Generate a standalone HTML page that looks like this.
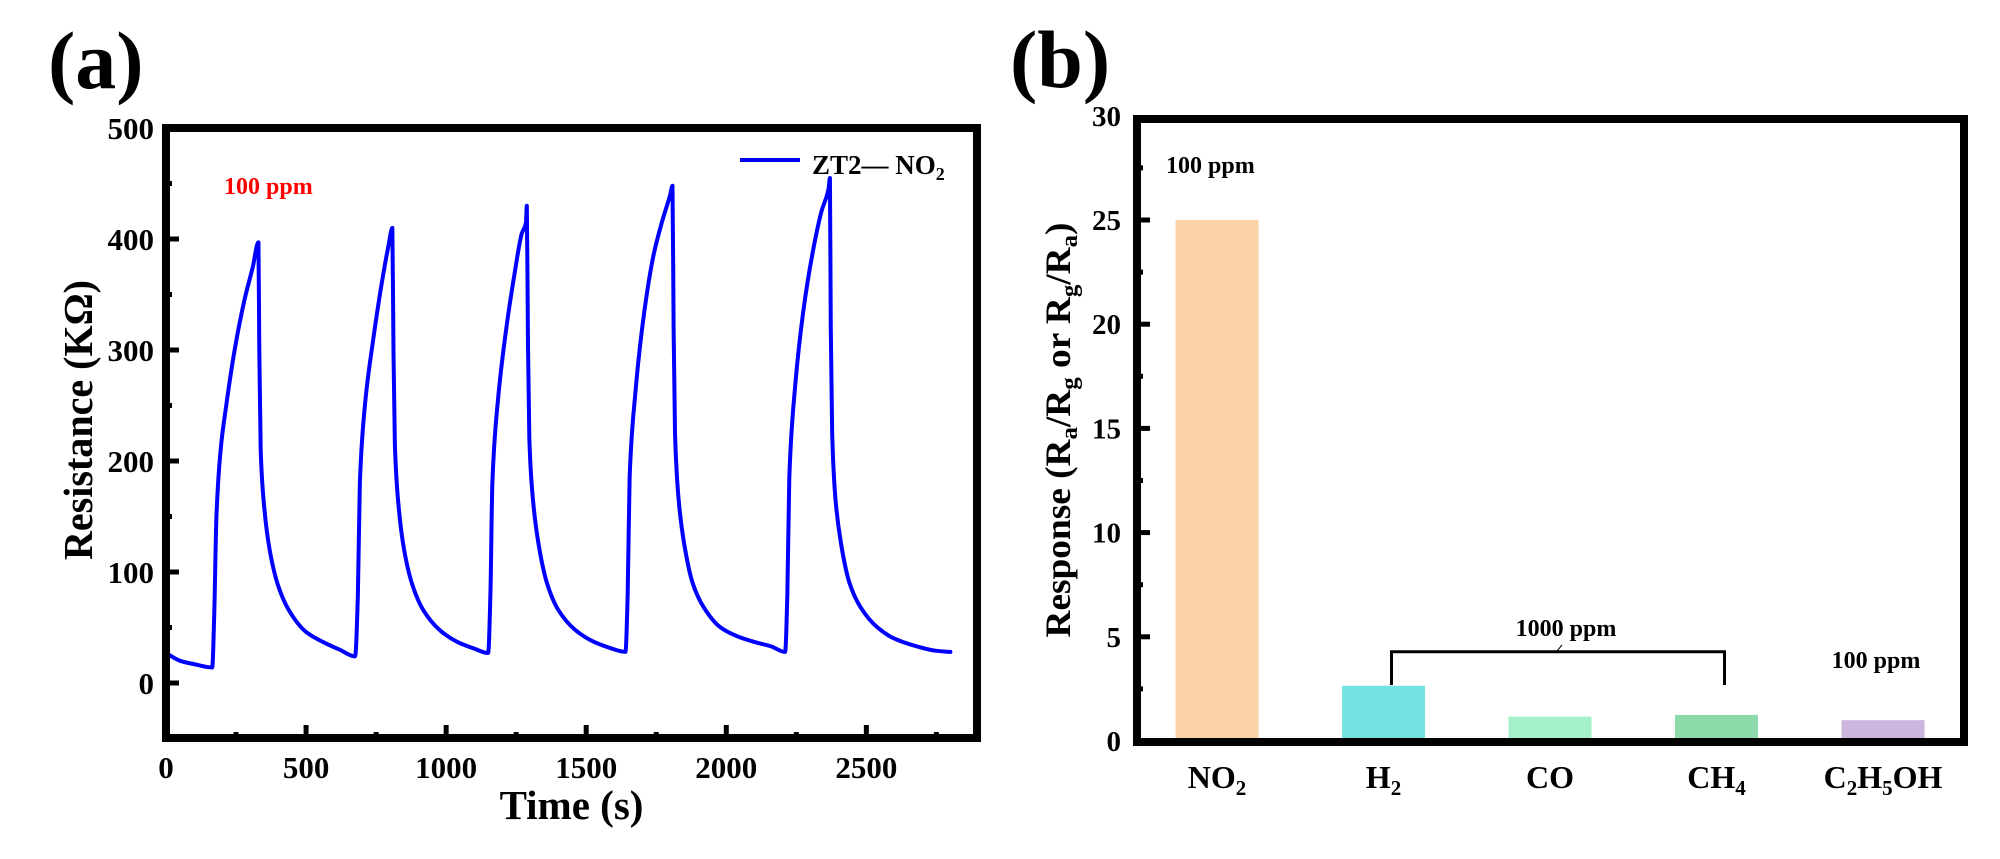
<!DOCTYPE html>
<html><head><meta charset="utf-8"><style>
html,body{margin:0;padding:0;background:#fff;}
svg{display:block;font-family:"Liberation Serif",serif;font-weight:bold;}
</style></head><body>
<svg id="fig" width="2000" height="859" viewBox="0 0 2000 859" xmlns="http://www.w3.org/2000/svg">
<g id="pa"></g>
<g id="pb"></g>
</svg>
<script>
// Panel (a) data
const timeS = [0,50,100,165,172,180,195,215,245,280,310,330,333,338,350,370,400,440,500,560,620,675,
 685,692,710,740,770,795,808,812,817,830,850,880,920,980,1040,1100,1150,
 1158,1165,1185,1215,1245,1270,1285,1288,1292,1297,1310,1330,1360,1400,1460,1520,1580,1640,
 1648,1655,1675,1705,1740,1770,1800,1808,1812,1817,1830,1850,1880,1920,1980,2040,2100,2160,2210,
 2218,2225,2245,2275,2310,2340,2365,2370,2373,2378,2390,2410,2440,2480,2540,2600,2680,2750,2800];
const resistance = [27,20,17,14,60,150,210,250,300,345,375,397,300,210,160,120,88,65,46,37,30,24,
 80,180,250,310,360,395,410,300,215,160,120,88,65,47,37,31,27,
 80,180,255,320,370,405,415,430,310,220,165,125,90,66,48,38,32,28,
 80,185,260,330,385,415,440,448,320,225,165,125,90,68,50,42,37,33,28,
 80,185,265,335,390,425,445,455,320,225,165,125,90,68,50,40,33,29,28];
const xTicksA = [0,500,1000,1500,2000,2500];
const yTicksA = [0,100,200,300,400,500];
// Panel (b) data
const gases = ["NO2","H2","CO","CH4","C2H5OH"];
const gasLabels = [["NO","2",""],["H","2",""],["CO","",""],["CH","4",""],["C","2","H","5","OH"]];
const responses = [25.0,2.65,1.17,1.25,1.0];
const barColors = ["#fbd3a9","#74e2e2","#a4f0c8","#8cd9a9","#cdb6de"];
const yTicksB = [0,5,10,15,20,25,30];

const NS="http://www.w3.org/2000/svg";
function mk(parent,tag,attrs,text){const e=document.createElementNS(NS,tag);for(const k in attrs)e.setAttribute(k,attrs[k]);if(text!==undefined)e.textContent=text;parent.appendChild(e);return e;}
function monotonePath(P){
 const n=P.length;if(n<2)return '';
 const d=[],m=[];
 for(let i=0;i<n-1;i++)d.push((P[i+1][1]-P[i][1])/(P[i+1][0]-P[i][0]||1e-6));
 m[0]=d[0];m[n-1]=d[n-2];
 for(let i=1;i<n-1;i++){if(d[i-1]*d[i]<=0)m[i]=0;else{const h0=P[i][0]-P[i-1][0],h1=P[i+1][0]-P[i][0];m[i]=3*(h0+h1)/((2*h1+h0)/d[i-1]+(h1+2*h0)/d[i]);}}
 let s='M'+P[0][0]+','+P[0][1];
 for(let i=0;i<n-1;i++){const h=P[i+1][0]-P[i][0];
  s+=' C'+(P[i][0]+h/3)+','+(P[i][1]+m[i]*h/3)+' '+(P[i+1][0]-h/3)+','+(P[i+1][1]-m[i+1]*h/3)+' '+P[i+1][0]+','+P[i+1][1];}
 return s;}

// ---------- Panel A ----------
const pa=document.getElementById('pa');
const AL=166,AR=977,AT=128,AB=738;
const ax=t=>AL+(t-0)*(AR-AL)/2895;
const ay=v=>683-v*1.11;
let e;
e=mk(pa,'text',{x:48,y:88,'font-size':82},'(a)');


for(let t=250;t<2895;t+=250){const major=t%500===0;
 e=mk(pa,'line',{x1:ax(t),x2:ax(t),y1:AB,y2:AB-(major?13:6),stroke:'#000','stroke-width':5});
 
 }
for(let v=-50;v<=500;v+=50){const major=v%100===0;
 e=mk(pa,'line',{x1:AL,x2:AL+(major?13:6),y1:ay(v),y2:ay(v),stroke:'#000','stroke-width':5});
 
 }
xTicksA.forEach(t=>{e=mk(pa,'text',{x:ax(t),y:778,'font-size':31,'text-anchor':'middle'},String(t));
 
 });
yTicksA.forEach(v=>{e=mk(pa,'text',{x:154,y:ay(v)+11,'font-size':31,'text-anchor':'end'},String(v));
 
 });
e=mk(pa,'text',{x:(AL+AR)/2,y:819,'font-size':41,'text-anchor':'middle'},'Time (s)');


e=mk(pa,'text',{x:0,y:0,'font-size':41,'text-anchor':'middle',transform:'translate(92,420) rotate(-90)',textLength:280,lengthAdjust:'spacingAndGlyphs'},'Resistance (KΩ)');


e=mk(pa,'path',{d:monotonePath(timeS.map((t,i)=>[ax(t),ay(resistance[i])])),fill:'none',stroke:'#0000ff','stroke-width':4,'stroke-linejoin':'round','stroke-linecap':'round'});


e=mk(pa,'rect',{x:AL,y:AT,width:AR-AL,height:AB-AT,fill:'none',stroke:'#000','stroke-width':8});


e=mk(pa,'text',{x:224,y:194,'font-size':24,fill:'#ff0000'},'100 ppm');


e=mk(pa,'line',{x1:740,x2:800,y1:160,y2:160,stroke:'#0000ff','stroke-width':4});


e=mk(pa,'text',{x:812,y:174,'font-size':27});


mk(e,'tspan',{},'ZT2— NO');mk(e,'tspan',{'font-size':18,dy:6},'2');

// ---------- Panel B ----------
const pb=document.getElementById('pb');
const BL=1137,BR=1964,BT=119,BB=742;
const bx=i=>BL+80+i*166.5;
const by=v=>741-v*20.84;
e=mk(pb,'text',{x:1010,y:87,'font-size':82},'(b)');


responses.forEach((v,i)=>{e=mk(pb,'rect',{x:bx(i)-41.5,y:by(v),width:83,height:741-by(v),fill:barColors[i]});
 
 });
for(let v=2.5;v<30;v+=2.5){const major=v%5===0;
 e=mk(pb,'line',{x1:BL,x2:BL+(major?13:6),y1:by(v),y2:by(v),stroke:'#000','stroke-width':5});
 
 }
yTicksB.forEach(v=>{e=mk(pb,'text',{x:1121,y:by(v)+10,'font-size':29,'text-anchor':'end'},String(v));
 
 });
gasLabels.forEach((parts,i)=>{e=mk(pb,'text',{x:bx(i),y:788,'font-size':32,'text-anchor':'middle'});
 
 
 parts.forEach((p,j)=>{if(!p)return;const sub=j%2===1;mk(e,'tspan',sub?{'font-size':21,dy:7}:(j>0?{dy:-7}:{}),p);});});
e=mk(pb,'text',{x:0,y:0,'font-size':36,'text-anchor':'middle',transform:'translate(1070,430) rotate(-90)',textLength:415,lengthAdjust:'spacingAndGlyphs'});


[['Response (R',0],['a',1],['/R',2],['g',1],[' or R',2],['g',1],['/R',2],['a',1],[')',2]].forEach(([s,k])=>{
 mk(e,'tspan',k===1?{'font-size':24,dy:7}:(k===2?{dy:-7}:{}),s);});
e=mk(pb,'rect',{x:BL,y:BT,width:BR-BL,height:BB-BT,fill:'none',stroke:'#000','stroke-width':8});


e=mk(pb,'text',{x:1166,y:173,'font-size':24},'100 ppm');


e=mk(pb,'path',{d:`M${bx(1)+8},685 V651.7 H${bx(3)+8} V685`,fill:'none',stroke:'#000','stroke-width':3});


e=mk(pb,'line',{x1:1557,y1:651,x2:1562,y2:645,stroke:'#000','stroke-width':1});


e=mk(pb,'text',{x:1566,y:636,'font-size':24,'text-anchor':'middle'},'1000 ppm');


e=mk(pb,'text',{x:1876,y:668,'font-size':24,'text-anchor':'middle'},'100 ppm');


</script>
</body></html>
